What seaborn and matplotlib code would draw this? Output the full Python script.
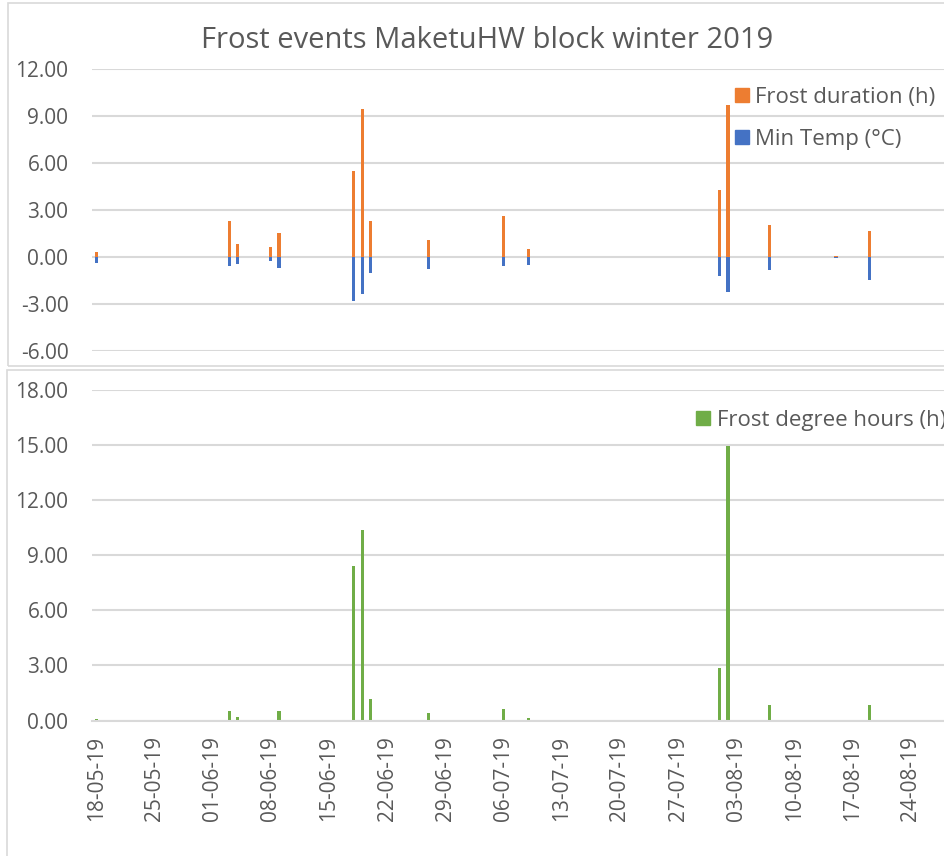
import pandas as pd
import matplotlib
matplotlib.use('Agg')
import matplotlib.pyplot as plt
import matplotlib.dates as mdates
from matplotlib.patches import Rectangle
from matplotlib.ticker import FormatStrFormatter
import seaborn as sns

# Frost event data
dates = ['2019-05-18', '2019-06-03', '2019-06-04', '2019-06-08', '2019-06-09',
         '2019-06-18', '2019-06-19', '2019-06-20', '2019-06-27', '2019-07-06',
         '2019-07-09', '2019-08-01', '2019-08-02', '2019-08-07', '2019-08-15',
         '2019-08-19']
frost_duration = [0.32, 2.28, 0.81, 0.62, 1.51, 5.50, 9.47, 2.28, 1.09, 2.64,
                  0.51, 4.29, 9.70, 2.05, 0.08, 1.64]
min_temp = [-0.36, -0.55, -0.43, -0.26, -0.72, -2.79, -2.35, -1.02, -0.79, -0.55,
            -0.49, -1.19, -2.26, -0.85, -0.05, -1.45]
degree_hours = [0.09, 0.53, 0.18, 0.0, 0.53, 8.39, 10.37, 1.18, 0.43, 0.63,
                0.13, 2.86, 14.94, 0.83, 0.0, 0.83]

tick_start = '2019-05-18'
n_ticks = 15

df = pd.DataFrame({
    'date': mdates.date2num(pd.to_datetime(dates)),
    'Frost duration (h)': frost_duration,
    'Min Temp (°C)': min_temp,
    'Frost degree hours (h)': degree_hours,
})

sns.set_style("white")
plt.rcParams['font.family'] = ['Open Sans', 'DejaVu Sans']
text_col = '#595959'
grid_col = '#d9d9d9'
orange, blue, green = '#ED7D31', '#4472C4', '#70AD47'

fig = plt.figure(figsize=(9.45, 8.56), dpi=100)
ax1 = fig.add_axes([0.0974, 0.5900, 0.9016, 0.3294])
ax2 = fig.add_axes([0.0974, 0.1581, 0.9016, 0.3867])

# chart borders (two stacked Excel charts)
fig.patches.append(Rectangle((8 / 945, 1 - 366 / 856), 1, 363 / 856, transform=fig.transFigure,
                             fill=False, edgecolor=grid_col, lw=1.2))
fig.patches.append(Rectangle((7 / 945, -0.01), 1, 1 - 370 / 856 + 0.01, transform=fig.transFigure,
                             fill=False, edgecolor=grid_col, lw=1.2))

sns.barplot(data=df, x='date', y='Frost duration (h)', native_scale=True, width=0.38,
            color=orange, saturation=1, linewidth=0, ax=ax1)
sns.barplot(data=df, x='date', y='Min Temp (°C)', native_scale=True, width=0.38,
            color=blue, saturation=1, linewidth=0, ax=ax1)
sns.barplot(data=df, x='date', y='Frost degree hours (h)', native_scale=True, width=0.38,
            color=green, saturation=1, linewidth=0, ax=ax2)

x0 = mdates.date2num(pd.Timestamp(tick_start))
tick_pos = [x0 + 7 * i for i in range(n_ticks)]
for ax in (ax1, ax2):
    ax.set_xlim(x0 - 0.5, x0 + 102.0)
    ax.set_xlabel('')
    ax.set_ylabel('')
    for s in ax.spines.values():
        s.set_visible(False)
    ax.yaxis.grid(True, color=grid_col, lw=1.5)
    ax.set_axisbelow(True)
    ax.yaxis.set_major_formatter(FormatStrFormatter('%.2f'))
    ax.tick_params(axis='y', length=0, labelsize=15, labelcolor=text_col, pad=17)

ax1.set_ylim(-6, 12)
ax1.set_yticks(range(-6, 13, 3))
ax1.set_xticks([])

ax2.set_ylim(0, 18)
ax2.set_yticks(range(0, 19, 3))
ax2.set_xticks(tick_pos)
ax2.set_xticklabels([mdates.num2date(t).strftime('%d-%m-%y') for t in tick_pos],
                    rotation=90, fontsize=15, color=text_col)
ax2.set_xticks([t - 0.5 for t in tick_pos], minor=True)
ax2.tick_params(axis='x', which='major', length=0, pad=11)
ax2.tick_params(axis='x', which='minor', length=6, color=grid_col, width=1.2)
ax2.spines['bottom'].set_visible(True)
ax2.spines['bottom'].set_color(grid_col)
ax2.spines['bottom'].set_linewidth(1.5)

h_or = plt.Line2D([], [], marker='s', ls='', color=orange, markersize=9.5)
h_bl = plt.Line2D([], [], marker='s', ls='', color=blue, markersize=9.5)
h_gr = plt.Line2D([], [], marker='s', ls='', color=green, markersize=9.5)
ax1.legend([h_or, h_bl], ['Frost duration (h)', 'Min Temp (°C)'], loc='upper left',
           bbox_to_anchor=(0.752, 0.937), frameon=False, fontsize=16, labelcolor=text_col,
           handletextpad=0.2, labelspacing=0.95, handlelength=0.8,
           borderpad=0, borderaxespad=0)
ax2.legend([h_gr], ['Frost degree hours (h)'], loc='upper left',
           bbox_to_anchor=(0.707, 0.939), frameon=False, fontsize=16, labelcolor=text_col,
           handletextpad=0.2, handlelength=0.8, borderpad=0, borderaxespad=0)

fig.text(0.515, 0.953, 'Frost events MaketuHW block winter 2019', ha='center', va='center',
         fontsize=21, color=text_col)

fig.savefig('out.png', dpi=100)
